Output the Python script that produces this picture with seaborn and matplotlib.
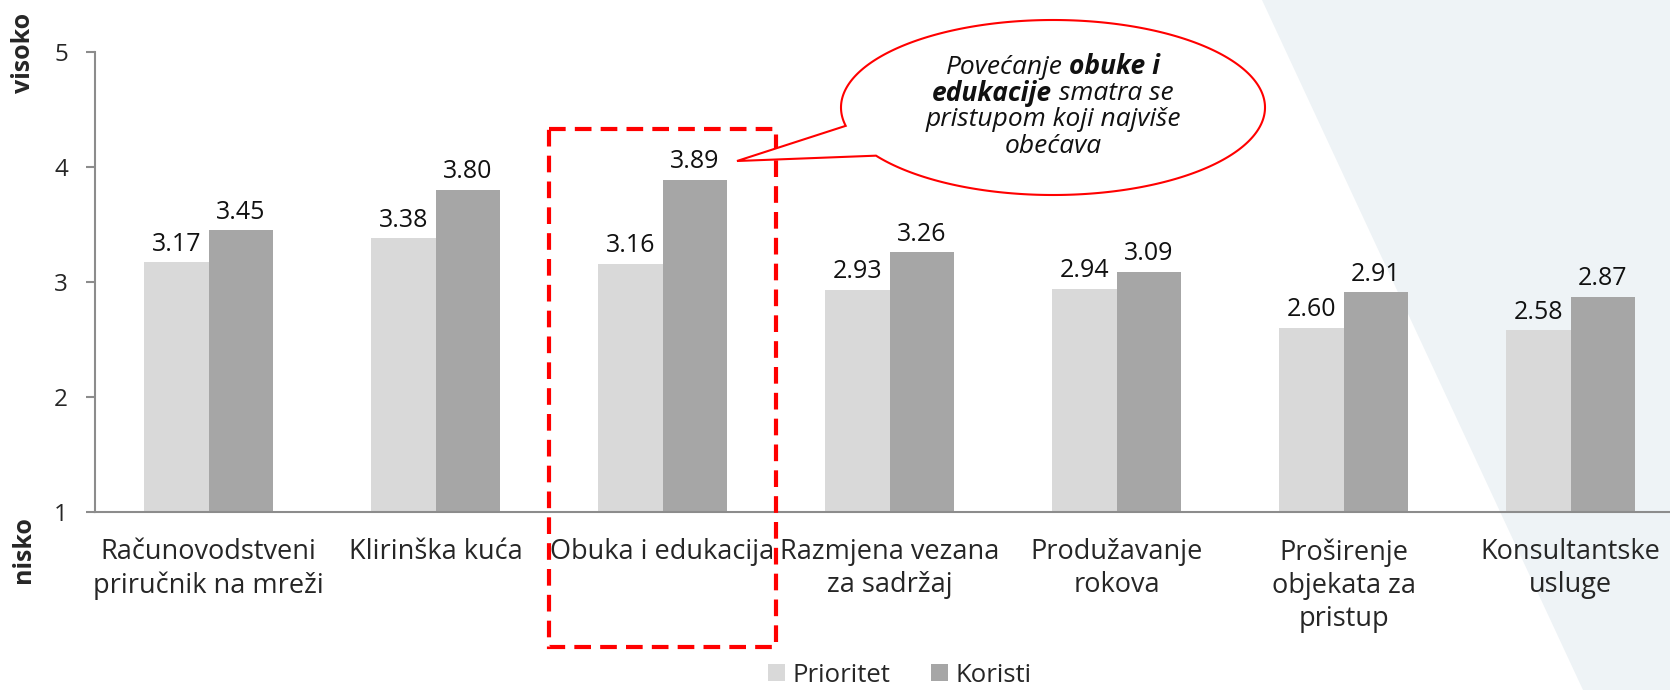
import numpy as np
import pandas as pd
import seaborn as sns
import matplotlib.pyplot as plt
from matplotlib.patches import Polygon, Rectangle

# Data
kategorije = ["Računovodstveni\npriručnik na mreži", "Klirinška kuća", "Obuka i edukacija",
              "Razmjena vezana\nza sadržaj", "Produžavanje\nrokova",
              "Proširenje\nobjekata za\npristup", "Konsultantske\nusluge"]
prioritet = [3.17, 3.38, 3.16, 2.93, 2.94, 2.60, 2.58]
koristi = [3.45, 3.80, 3.89, 3.26, 3.09, 2.91, 2.87]
serije = ["Prioritet", "Koristi"]
boje = ["#D9D9D9", "#A6A6A6"]
y_ticks = [1, 2, 3, 4, 5]

df = pd.DataFrame({
    "kat": kategorije * 2,
    "vrijednost": prioritet + koristi,
    "serija": [serije[0]] * len(kategorije) + [serije[1]] * len(kategorije),
})

sns.set_style("white")
plt.rcParams['font.family'] = ['Open Sans', 'DejaVu Sans']

W, H = 1670, 690
fig = plt.figure(figsize=(W / 100, H / 100), dpi=100)

# background triangle (pixel coords)
bg = fig.add_axes([0, 0, 1, 1], zorder=0)
bg.set_xlim(0, W)
bg.set_ylim(H, 0)
bg.axis("off")
bg.add_patch(Polygon([(1262, 0), (1583, H), (W, H), (W, 0)], closed=True,
                     facecolor="#EEF3F6", edgecolor="none"))

# main chart
ax = fig.add_axes([95 / W, 1 - 512 / H, 1589 / W, 460 / H], zorder=1)
ax.patch.set_alpha(0)
sns.barplot(data=df, x="kat", y="vrijednost", hue="serija", palette=boje,
            width=0.568, saturation=1, linewidth=0, ax=ax)
ax.set_xlim(-0.5, len(kategorije) - 0.5)
ax.set_ylim(1, 5)
ax.set_yticks(y_ticks)
ax.set_xlabel("")
ax.set_ylabel("")

for c in ax.containers:
    ax.bar_label(c, fmt="%.2f", padding=4, fontsize=18, color="#111111")

sns.despine(ax=ax)
for s in ["left", "bottom"]:
    ax.spines[s].set_color("#8C8C8C")
    ax.spines[s].set_linewidth(1.5)

ax.set_xticks(range(len(kategorije)))
ax.set_xticklabels(kategorije, fontsize=19.5, linespacing=1.23)
ax.set_xticks(np.arange(-0.5, len(kategorije), 1), minor=True)
ax.tick_params(axis="x", which="major", length=0, pad=19)
ax.tick_params(axis="x", which="minor", length=6, width=1.5, color="#8C8C8C", direction="out")
ax.tick_params(axis="y", length=6.5, width=1.5, color="#8C8C8C", labelsize=17.5, pad=13,
               left=True, direction="out")

h, l = ax.get_legend_handles_labels()
ax.legend(h, l, loc="center", bbox_to_anchor=(900 / W, 1 - 675 / H),
          bbox_transform=fig.transFigure, ncol=2, frameon=False, fontsize=18.5,
          handlelength=0.65, handleheight=0.65, handletextpad=0.3, columnspacing=1.6,
          borderpad=0)

fig.text(23 / W, 1 - 53 / H, "visoko", rotation=90, ha="center", va="center",
         fontsize=18, fontweight="bold")
fig.text(23 / W, 1 - 550 / H, "nisko", rotation=90, ha="center", va="center",
         fontsize=18, fontweight="bold")

# overlay: dashed box and callout
ov = fig.add_axes([0, 0, 1, 1], zorder=2)
ov.set_xlim(0, W)
ov.set_ylim(H, 0)
ov.axis("off")
ov.add_patch(Rectangle((549, 129), 227, 518, fill=False, edgecolor="#FF0000",
                       linewidth=3, linestyle=(0, (4, 2.2))))

cx, cy, a, b = 1053, 107.5, 212, 87.5
t = np.radians(np.linspace(167.9, 506.6, 300))
pts = np.column_stack([cx + a * np.cos(t), cy + b * np.sin(t)])
pts = np.vstack([pts, [737, 161]])
ov.add_patch(Polygon(pts, closed=True, facecolor="white", edgecolor="#FF0000", linewidth=1.5))

linije = [[("Povećanje", "normal"), ("obuke i", "bold")],
          [("edukacije", "bold"), ("smatra se", "normal")],
          [("pristupom koji najviše", "normal")],
          [("obećava", "normal")]]
y_lin = [67, 93.5, 120, 146.5]
fs = 19
r = fig.canvas.get_renderer()
probe1 = ov.text(0, 0, "a a", fontsize=fs, style="italic")
probe2 = ov.text(0, 0, "aa", fontsize=fs, style="italic")
razmak = probe1.get_window_extent(r).width - probe2.get_window_extent(r).width
probe1.remove()
probe2.remove()
for lin, yy in zip(linije, y_lin):
    txts = [ov.text(0, yy, s, fontsize=fs, style="italic", fontweight=w,
                    ha="left", va="center", color="#111111") for s, w in lin]
    sir = [tx.get_window_extent(r).width for tx in txts]
    ukupno = sum(sir) + razmak * (len(txts) - 1)
    x = cx - ukupno / 2
    for tx, w in zip(txts, sir):
        tx.set_x(x)
        x += w + razmak

fig.savefig("out.png", dpi=100)
